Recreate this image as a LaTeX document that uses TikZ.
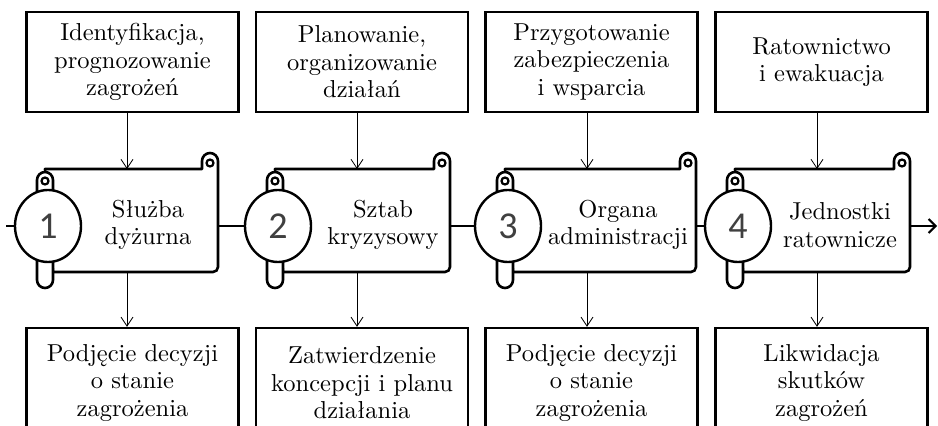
\documentclass[tikz,border=0pt]{standalone}
\usepackage{fontspec}
\setmainfont{lmroman10-regular.otf}
\newfontfamily\numfont{Carlito}
\usetikzlibrary{arrows.meta,calc,shapes.geometric}
\tikzset{
  txt/.style={font=\fontsize{24.5}{27.5}\selectfont, align=center, inner sep=0pt},
  topbox/.style={txt, draw, line width=2.4pt, fill=white, minimum width=212pt, minimum height=100pt},
  botbox/.style={topbox, minimum height=110pt},
  vconn/.style={line width=0.8pt, -{Straight Barb[length=9pt,width=12pt,line width=0.8pt]}},
  hconn/.style={line width=2.2pt},
  scrollline/.style={line width=2.6pt, line join=round, fill=white},
  numcirc/.style={ellipse, draw, line width=2.4pt, fill=white, minimum width=66pt, minimum height=72pt, inner sep=0pt,
    font=\numfont\fontsize{38}{38}\selectfont, text=black!75},
}
% #1 = circle centre x, #2 = right edge x, #3 = index, #4 = number
\newcommand\myscroll[4]{%
  \draw[scrollline] ({#1+5},272) -- ({#2-5},272) arc[start angle=90,end angle=0,radius=5]
     -- (#2,161) arc[start angle=0,end angle=-180,radius=8] -- ({#2-16},169) -- ({#1-3},169) -- cycle;
  \draw[line width=2.2pt, fill=white] ({#2-8},163) circle[radius=3.5];
  \draw[scrollline] ({#1-11},180) -- ({#1-11},280) arc[start angle=180,end angle=0,radius=8]
     -- ({#1+5},180) arc[start angle=0,end angle=-180,radius=8] -- cycle;
  \draw[line width=2.2pt, fill=white] ({#1-3},181) circle[radius=3.5];
  \node[numcirc] (c#3) at (#1,226) {#4};
  \coordinate (e#3) at (#2,226);
}
\begin{document}
\begin{tikzpicture}[x=1pt,y=-1pt]
\clip (0,0) rectangle (938,426);
\fill[white] (0,0) rectangle (938,426);

% top boxes
\node[topbox] (t1) at (132.5,62) {Identyfikacja,\\prognozowanie\\zagrożeń};
\node[topbox] (t2) at (362,62) {Planowanie,\\organizowanie\\działań};
\node[topbox] (t3) at (591.5,62) {Przygotowanie\\zabezpieczenia\\i wsparcia};
\node[topbox] (t4) at (821.5,62) {Ratownictwo\\i ewakuacja};

% bottom boxes
\node[botbox] (b1) at (132.5,383) {Podjęcie decyzji\\o stanie\\zagrożenia};
\node[botbox] (b2) at (362,383) {Zatwierdzenie\\koncepcji i planu\\działania};
\node[botbox] (b3) at (591.5,383) {Podjęcie decyzji\\o stanie\\zagrożenia};
\node[botbox] (b4) at (821.5,383) {Likwidacja\\skutków\\zagrożeń};

% scrolls
\myscroll{48}{218}{1}{1}
\myscroll{278}{450}{2}{2}
\myscroll{508}{696}{3}{3}
\myscroll{738}{910}{4}{4}

\node[txt] (s1) at (148,225) {Służba\\dyżurna};
\node[txt] (s2) at (383,225) {Sztab\\kryzysowy};
\node[txt] (s3) at (618,225) {Organa\\administracji};
\node[txt] (s4) at (840,225) {Jednostki\\ratownicze};

% scroll connection points
\coordinate (n1) at (127,169); \coordinate (d1) at (127,272);
\coordinate (n2) at (357,169); \coordinate (d2) at (357,272);
\coordinate (n3) at (587,169); \coordinate (d3) at (587,272);
\coordinate (n4) at (817,169); \coordinate (d4) at (817,272);
\coordinate (in) at (6,226);
\coordinate (out) at (937,226);

% vertical connectors
\foreach \i in {1,2,3,4}{
  \draw[vconn] (t\i.south -| n\i) -- (n\i);
  \draw[vconn] (d\i) -- (b\i.north -| d\i);
}

% horizontal connectors
\draw[hconn] (in) -- (c1.west);
\draw[hconn] (e1) -- (c2.west);
\draw[hconn] (e2) -- (c3.west);
\draw[hconn] (e3) -- (c4.west);
\draw[hconn, -{Straight Barb[length=7pt,width=14pt,line width=2pt]}] (e4) -- (out);
\end{tikzpicture}
\end{document}
